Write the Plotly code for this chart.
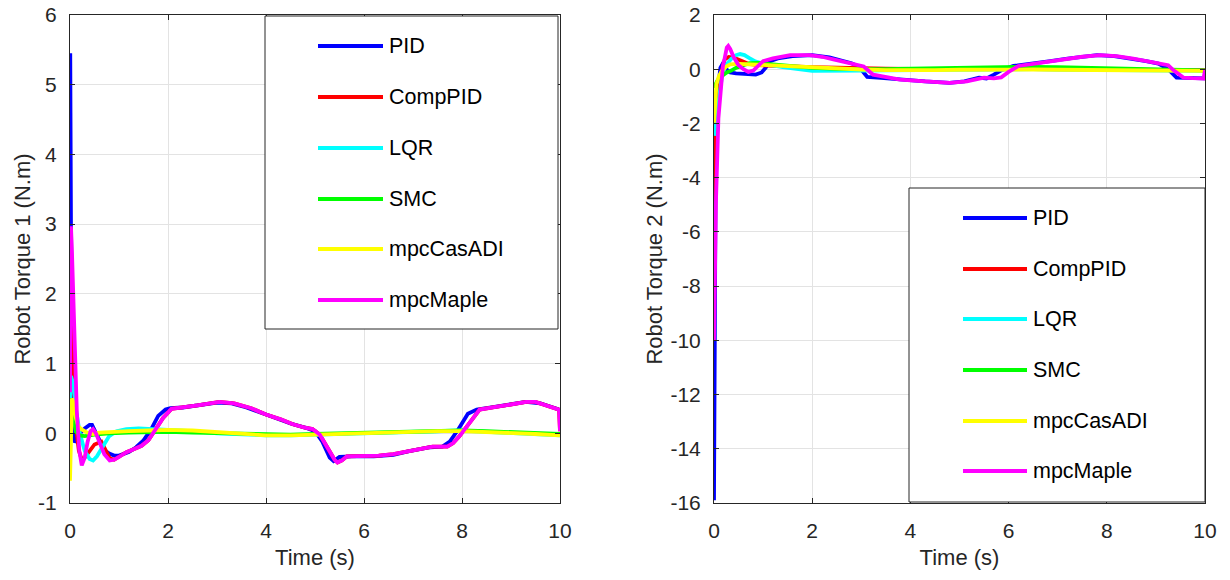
import plotly.graph_objects as go

# ---------------- data ----------------
names = ["PID", "CompPID", "LQR", "SMC", "mpcCasADI", "mpcMaple"]
colors = ["#0000FF", "#FF0000", "#00FFFF", "#00FF00", "#FFFF00", "#FF00FF"]

# Robot Torque 1
t1_pid = [0, 0.005, 0.01, 0.02, 0.04, 0.06, 0.08, 0.1, 0.15, 0.2, 0.3, 0.4, 0.45, 0.5, 0.6, 0.7, 0.8, 0.9, 1.0, 1.1, 1.2, 1.35, 1.5, 1.65, 1.8, 1.95, 2.05, 2.3, 2.6, 3.0, 3.3, 3.6, 4.0, 4.5, 4.85, 5.0, 5.15, 5.3, 5.38, 5.5, 5.75, 6.2, 6.6, 6.9, 7.35, 7.6, 7.75, 7.92, 8.12, 8.3, 8.6, 9.0, 9.3, 9.6, 9.8, 9.95, 10.0]
y1_pid = [4.35, 5.45, 4.6, 3.0, 1.3, 0.3, -0.05, -0.13, -0.08, 0.0, 0.07, 0.12, 0.12, 0.05, -0.12, -0.24, -0.29, -0.32, -0.32, -0.3, -0.27, -0.2, -0.1, 0.05, 0.25, 0.34, 0.36, 0.37, 0.4, 0.44, 0.43, 0.37, 0.27, 0.14, 0.07, 0.03, -0.12, -0.35, -0.4, -0.34, -0.33, -0.33, -0.31, -0.26, -0.2, -0.19, -0.12, 0.05, 0.28, 0.34, 0.37, 0.42, 0.45, 0.43, 0.39, 0.35, 0.33]

t1_comp = [0, 0.005, 0.02, 0.05, 0.08, 0.12, 0.18, 0.24, 0.3, 0.4, 0.5, 0.64, 0.72, 0.81, 0.9, 1.0, 1.15, 1.3, 1.46, 1.6, 1.75, 1.9, 2.07, 2.3, 2.6, 3.05, 3.35, 3.7, 4.0, 4.3, 4.55, 4.8, 4.95, 5.1, 5.25, 5.4, 5.46, 5.55, 5.65, 5.9, 6.3, 6.6, 6.93, 7.2, 7.4, 7.7, 7.82, 7.95, 8.15, 8.36, 8.63, 9.0, 9.31, 9.5, 9.65, 9.85, 9.98, 10.0]
y1_comp = [1.25, 1.85, 1.6, 1.0, 0.5, 0.1, -0.25, -0.38, -0.35, -0.26, -0.16, -0.12, -0.22, -0.36, -0.38, -0.34, -0.27, -0.23, -0.18, -0.1, 0.05, 0.22, 0.35, 0.37, 0.4, 0.45, 0.43, 0.36, 0.27, 0.2, 0.13, 0.08, 0.06, -0.02, -0.2, -0.38, -0.42, -0.39, -0.33, -0.33, -0.32, -0.3, -0.25, -0.21, -0.19, -0.19, -0.14, -0.04, 0.15, 0.34, 0.37, 0.41, 0.45, 0.45, 0.42, 0.38, 0.34, 0.03]

t1_lqr = [0, 0.02, 0.07, 0.12, 0.2, 0.3, 0.4, 0.47, 0.55, 0.67, 0.8, 0.95, 1.15, 1.4, 1.7, 2.0, 2.5, 3.0, 3.5, 4.0, 4.5, 5.0, 5.5, 6.0, 6.5, 7.0, 7.5, 8.0, 8.5, 9.0, 9.5, 10.0]
y1_lqr = [0.48, 0.82, 0.7, 0.35, 0.0, -0.25, -0.37, -0.39, -0.33, -0.19, -0.04, 0.03, 0.06, 0.07, 0.06, 0.05, 0.03, 0.0, -0.02, -0.03, -0.03, -0.02, 0.0, 0.01, 0.02, 0.03, 0.04, 0.04, 0.02, 0.0, -0.02, -0.03]

t1_smc = [0, 0.01, 0.04, 0.08, 0.12, 0.2, 0.3, 0.5, 0.8, 1.2, 1.6, 2.0, 2.5, 3.0, 3.5, 4.0, 4.5, 5.0, 5.5, 6.0, 6.5, 7.0, 7.5, 8.0, 8.5, 9.0, 9.5, 10.0]
y1_smc = [0.48, 0.5, 0.35, 0.15, 0.02, -0.03, -0.04, -0.02, 0.0, 0.01, 0.02, 0.02, 0.01, 0.0, -0.01, -0.02, -0.02, -0.01, 0.0, 0.01, 0.02, 0.03, 0.04, 0.04, 0.03, 0.02, 0.0, -0.01]

t1_casadi = [0, 0.02, 0.04, 0.07, 0.12, 0.17, 0.23, 0.35, 0.47, 0.6, 0.8, 1.2, 1.6, 2.0, 2.5, 3.0, 3.5, 4.0, 4.5, 5.0, 5.5, 6.0, 6.5, 7.0, 7.5, 8.0, 8.5, 9.0, 9.5, 10.0]
y1_casadi = [-0.68, 0.0, 0.5, 0.45, 0.22, 0.1, 0.06, 0.01, -0.01, 0.01, 0.02, 0.03, 0.04, 0.05, 0.04, 0.02, -0.01, -0.03, -0.03, -0.02, 0.0, 0.01, 0.02, 0.03, 0.03, 0.03, 0.02, 0.01, -0.01, -0.03]

t1_maple = [0, 0.005, 0.02, 0.04, 0.07, 0.1, 0.14, 0.19, 0.24, 0.3, 0.36, 0.42, 0.47, 0.53, 0.6, 0.7, 0.81, 0.9, 1.0, 1.15, 1.3, 1.46, 1.6, 1.75, 1.9, 2.07, 2.3, 2.6, 3.05, 3.35, 3.7, 4.0, 4.3, 4.55, 4.8, 4.95, 5.1, 5.25, 5.4, 5.46, 5.55, 5.65, 5.9, 6.3, 6.6, 6.93, 7.2, 7.4, 7.7, 7.82, 7.95, 8.15, 8.36, 8.63, 9.0, 9.31, 9.5, 9.65, 9.85, 9.98, 10.0]
y1_maple = [0.59, 1.5, 2.97, 2.6, 1.8, 1.0, 0.3, -0.25, -0.46, -0.35, -0.12, 0.03, 0.06, 0.0, -0.14, -0.3, -0.39, -0.38, -0.34, -0.27, -0.23, -0.18, -0.1, 0.05, 0.22, 0.35, 0.37, 0.4, 0.45, 0.43, 0.36, 0.27, 0.2, 0.13, 0.08, 0.06, -0.02, -0.2, -0.38, -0.42, -0.39, -0.33, -0.33, -0.32, -0.3, -0.25, -0.21, -0.19, -0.19, -0.14, -0.04, 0.15, 0.34, 0.37, 0.41, 0.45, 0.45, 0.42, 0.38, 0.34, 0.03]

# Robot Torque 2
t2_pid = [0, 0.01, 0.03, 0.06, 0.09, 0.13, 0.17, 0.25, 0.33, 0.45, 0.6, 0.73, 0.85, 0.97, 1.05, 1.14, 1.3, 1.6, 2.0, 2.35, 2.8, 2.95, 3.12, 3.4, 3.75, 4.3, 4.8, 5.1, 5.4, 5.55, 5.7, 5.85, 6.1, 6.5, 6.85, 7.2, 7.8, 8.15, 8.5, 8.8, 9.05, 9.25, 9.42, 9.7, 10.0]
y2_pid = [-15.9, -10.5, -5.0, -2.0, -0.6, 0.05, 0.18, 0.0, -0.12, -0.15, -0.18, -0.21, -0.2, -0.12, 0.05, 0.3, 0.4, 0.48, 0.52, 0.44, 0.22, 0.1, -0.28, -0.32, -0.38, -0.45, -0.5, -0.45, -0.31, -0.34, -0.2, -0.04, 0.12, 0.2, 0.3, 0.39, 0.52, 0.48, 0.39, 0.3, 0.21, 0.0, -0.31, -0.33, -0.34]

t2_comp = [0, 0.005, 0.02, 0.05, 0.08, 0.12, 0.17, 0.22, 0.3, 0.4, 0.53, 0.7, 0.9, 1.2, 1.6, 2.0, 2.5, 3.0, 3.5, 4.0, 4.5, 5.0, 5.5, 6.0, 6.5, 7.0, 7.5, 8.0, 8.5, 9.0, 9.5, 10.0]
y2_comp = [-5.35, -4.2, -3.0, -1.6, -0.8, -0.3, 0.1, 0.37, 0.45, 0.43, 0.33, 0.2, 0.15, 0.12, 0.1, 0.08, 0.05, 0.03, 0.02, 0.01, 0.0, 0.0, 0.0, 0.0, 0.0, 0.0, 0.0, 0.0, 0.0, -0.01, -0.02, -0.03]

t2_lqr = [0, 0.03, 0.06, 0.09, 0.12, 0.16, 0.21, 0.26, 0.35, 0.45, 0.53, 0.62, 0.73, 0.85, 1.07, 1.4, 2.0, 2.5, 3.0, 3.5, 4.0, 4.5, 5.0, 5.5, 6.0, 6.5, 7.0, 7.5, 8.0, 8.5, 9.0, 9.5, 10.0]
y2_lqr = [-2.45, -2.0, -1.6, -1.17, -0.7, -0.3, 0.0, 0.18, 0.38, 0.52, 0.56, 0.52, 0.4, 0.28, 0.18, 0.08, -0.06, -0.07, -0.05, -0.04, -0.03, -0.02, -0.01, 0.0, 0.0, 0.0, -0.01, -0.02, -0.03, -0.04, -0.04, -0.05, -0.06]

t2_smc = [0, 0.03, 0.06, 0.12, 0.2, 0.26, 0.35, 0.46, 0.6, 0.73, 0.9, 1.2, 1.6, 2.0, 2.5, 3.0, 3.5, 4.0, 4.5, 5.0, 5.5, 6.0, 6.5, 7.0, 7.5, 8.0, 8.5, 9.0, 9.5, 10.0]
y2_smc = [-0.68, -0.55, -0.45, -0.3, -0.18, -0.12, -0.05, 0.06, 0.15, 0.22, 0.23, 0.18, 0.12, 0.05, 0.01, 0.0, 0.0, 0.02, 0.04, 0.06, 0.08, 0.09, 0.09, 0.08, 0.06, 0.04, 0.02, 0.0, -0.02, -0.04]

t2_casadi = [0, 0.02, 0.05, 0.1, 0.16, 0.25, 0.33, 0.5, 0.73, 1.0, 1.5, 2.0, 2.5, 3.0, 3.5, 4.0, 4.5, 5.0, 5.5, 6.0, 6.5, 7.0, 7.5, 8.0, 8.5, 9.0, 9.5, 10.0]
y2_casadi = [-1.97, -1.2, -0.55, -0.25, -0.06, 0.1, 0.18, 0.2, 0.18, 0.14, 0.1, 0.06, 0.02, -0.01, -0.03, -0.04, -0.03, -0.02, -0.01, -0.01, -0.01, -0.02, -0.03, -0.04, -0.04, -0.05, -0.05, -0.06]

t2_maple = [0, 0.01, 0.04, 0.09, 0.14, 0.18, 0.22, 0.26, 0.29, 0.33, 0.4, 0.5, 0.6, 0.7, 0.8, 0.94, 1.0, 1.2, 1.55, 1.95, 2.2, 2.43, 2.7, 2.9, 3.05, 3.24, 3.5, 3.79, 4.3, 4.8, 5.15, 5.5, 5.7, 5.85, 6.0, 6.2, 6.5, 6.85, 7.18, 7.5, 7.86, 8.2, 8.54, 8.85, 9.15, 9.25, 9.36, 9.45, 9.56, 9.75, 9.97, 10.0]
y2_maple = [-10.0, -8.0, -4.9, -1.8, -0.55, 0.1, 0.43, 0.8, 0.86, 0.75, 0.45, 0.15, 0.0, -0.1, -0.05, 0.2, 0.3, 0.4, 0.52, 0.52, 0.46, 0.36, 0.25, 0.15, 0.1, -0.2, -0.3, -0.38, -0.45, -0.5, -0.45, -0.31, -0.34, -0.3, -0.1, 0.12, 0.2, 0.3, 0.39, 0.46, 0.52, 0.48, 0.39, 0.3, 0.21, 0.15, -0.04, -0.18, -0.31, -0.33, -0.34, -0.04]

x_ticks = [0, 2, 4, 6, 8, 10]
y1_ticks = [-1, 0, 1, 2, 3, 4, 5, 6]
y2_ticks = [-16, -14, -12, -10, -8, -6, -4, -2, 0, 2]

series1 = [(t1_pid, y1_pid), (t1_comp, y1_comp), (t1_lqr, y1_lqr),
           (t1_smc, y1_smc), (t1_casadi, y1_casadi), (t1_maple, y1_maple)]
series2 = [(t2_pid, y2_pid), (t2_comp, y2_comp), (t2_lqr, y2_lqr),
           (t2_smc, y2_smc), (t2_casadi, y2_casadi), (t2_maple, y2_maple)]

# ---------------- figure ----------------
W, H = 1230, 580
FONT = "Liberation Sans, Arial, Helvetica, sans-serif"
TXT = "#262626"

fig = go.Figure()
for (tx, ty), n, c in zip(series1, names, colors):
    fig.add_trace(go.Scatter(x=tx, y=ty, mode="lines", name=n, xaxis="x", yaxis="y",
                             line=dict(color=c, width=3.8), showlegend=False))
for (tx, ty), n, c in zip(series2, names, colors):
    fig.add_trace(go.Scatter(x=tx, y=ty, mode="lines", name=n, xaxis="x2", yaxis="y2",
                             line=dict(color=c, width=3.8), showlegend=False))

def px_x(p):
    return p / W

def px_y(p):
    return 1 - p / H

def labels(vals):
    return [str(v) for v in vals]  # ASCII hyphen minus like MATLAB

ax_common = dict(showline=True, linecolor=TXT, linewidth=1, mirror="ticks",
                 ticks="inside", ticklen=5, tickcolor=TXT, showgrid=True,
                 gridcolor="#e3e3e3", gridwidth=1, zeroline=False,
                 tickfont=dict(family=FONT, size=21, color=TXT), automargin=False)

ydom = [px_y(503), px_y(15)]
fig.update_layout(
    width=W, height=H, margin=dict(l=0, r=0, t=0, b=0),
    paper_bgcolor="white", plot_bgcolor="white",
    font=dict(family=FONT, color=TXT),
    xaxis=dict(domain=[px_x(70), px_x(560)], range=[0, 10], tickvals=x_ticks, ticktext=labels(x_ticks),
               title=dict(text="Time (s)", font=dict(size=22, family=FONT, color=TXT), standoff=8),
               ticklabelstandoff=9, anchor="y", **ax_common),
    yaxis=dict(domain=ydom, range=[-1, 6], tickvals=y1_ticks, ticktext=labels(y1_ticks),
               title=dict(text="Robot Torque 1 (N.m)", font=dict(size=22, family=FONT, color=TXT), standoff=1),
               ticklabelstandoff=8, anchor="x", **ax_common),
    xaxis2=dict(domain=[px_x(714), px_x(1205)], range=[0, 10], tickvals=x_ticks, ticktext=labels(x_ticks),
                title=dict(text="Time (s)", font=dict(size=22, family=FONT, color=TXT), standoff=8),
                ticklabelstandoff=9, anchor="y2", **ax_common),
    yaxis2=dict(domain=ydom, range=[-16, 2], tickvals=y2_ticks, ticktext=labels(y2_ticks),
                title=dict(text="Robot Torque 2 (N.m)", font=dict(size=22, family=FONT, color=TXT), standoff=1),
                ticklabelstandoff=8, anchor="x2", **ax_common),
)

# manual legend boxes (MATLAB style)
legends = [
    dict(box=(265, 16, 558, 329), x0=318, x1=383, tx=387, ys=[46, 97, 148, 199, 249, 300]),
    dict(box=(909, 188, 1205, 502), x0=963, x1=1027, tx=1031, ys=[218, 269, 319, 370, 421, 471]),
]
for lg in legends:
    bx0, by0, bx1, by1 = lg["box"]
    fig.add_shape(type="rect", xref="paper", yref="paper",
                  x0=px_x(bx0), x1=px_x(bx1), y0=px_y(by1), y1=px_y(by0),
                  line=dict(color=TXT, width=1), fillcolor="white", layer="above")
    for n, c, yy in zip(names, colors, lg["ys"]):
        fig.add_shape(type="line", xref="paper", yref="paper",
                      x0=px_x(lg["x0"]), x1=px_x(lg["x1"]), y0=px_y(yy), y1=px_y(yy),
                      line=dict(color=c, width=4), layer="above")
        fig.add_annotation(xref="paper", yref="paper", x=px_x(lg["tx"]), y=px_y(yy),
                           text=n, showarrow=False, xanchor="left", yanchor="middle",
                           font=dict(family=FONT, size=21.5, color="black"))

fig.write_html("out.html")
